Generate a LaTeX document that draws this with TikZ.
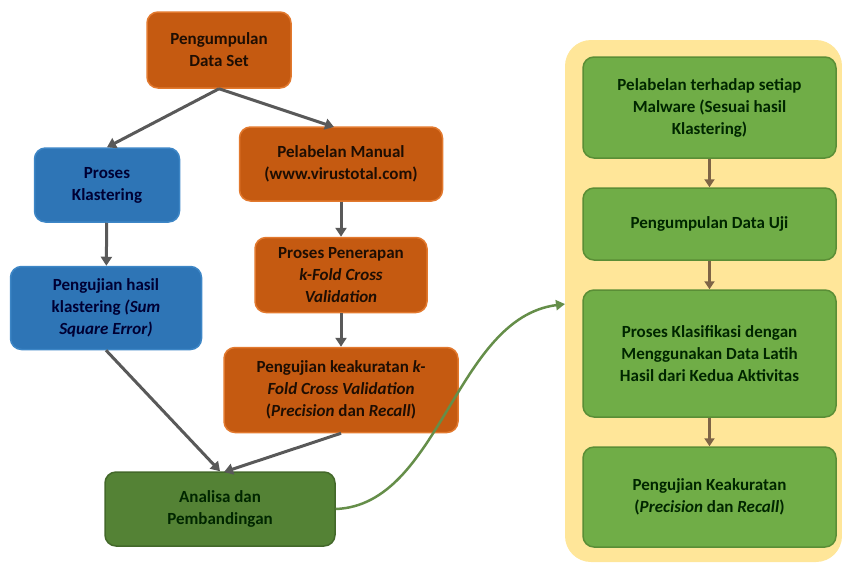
\documentclass[tikz,border=0pt]{standalone}
\usepackage{fontspec}
\setmainfont{Carlito}
\usepackage{xcolor}
\usetikzlibrary{arrows.meta}

\definecolor{orangefill}{HTML}{C55A11}
\definecolor{orangeline}{HTML}{E2792E}
\definecolor{bluefill}{HTML}{2E75B6}
\definecolor{blueline}{HTML}{3D86C6}
\definecolor{greenfill}{HTML}{70AD47}
\definecolor{greenline}{HTML}{5A8E36}
\definecolor{darkgreen}{HTML}{548235}
\definecolor{yellowbg}{HTML}{FFE699}
\definecolor{arrowgray}{HTML}{595959}
\definecolor{arrowbrown}{HTML}{7E6446}

\begin{document}
\begin{tikzpicture}[x=1pt,y=-1pt]
        \tikzset{box/.style={rounded corners=11pt,line width=1.5pt,align=center,
                font=\fontsize{17}{22}\selectfont\bfseries,inner sep=2pt},
            orangebox/.style={box,fill=orangefill,draw=orangeline,text=black!85!orangefill},
            bluebox/.style={box,fill=bluefill,draw=blueline,text=black!80!blue},
            greenbox/.style={box,fill=greenfill,draw=greenline,text=black!85!green,
                minimum width=253pt},
            analisabox/.style={box,fill=darkgreen,draw=darkgreen!80!black,text=black!85!green},
            flow/.style={draw=arrowgray,line width=3pt,-{Triangle[length=9pt,width=11pt]}},
            flowright/.style={draw=arrowbrown,line width=3pt,-{Triangle[length=8pt,width=10pt]}},
            link/.style={draw=darkgreen!90!white,line width=2.5pt,-{Triangle[length=9pt,width=10pt]}}}
        \useasboundingbox (0,0) rectangle (842,563);
        % right panel
        \fill[yellowbg,rounded corners=26pt] (565,40) rectangle (842,562);
        % left side
        \node[orangebox,minimum width=144pt,minimum height=76pt] (dataset) at (219,50)
            {Pengumpulan\\Data Set};
        \node[bluebox,minimum width=145pt,minimum height=74pt] (klaster) at (107,185)
            {Proses\\Klastering};
        \node[orangebox,minimum width=203pt,minimum height=74pt] (manual) at (341,164)
            {Pelabelan Manual\\(www.virustotal.com)};
        \node[bluebox,minimum width=191pt,minimum height=83pt] (sse) at (106,308)
            {Pengujian hasil\\klastering \textit{(Sum}\\\textit{Square Error)}};
        \node[orangebox,minimum width=172pt,minimum height=75pt] (kfold) at (341,275)
            {Proses Penerapan\\\textit{k-Fold Cross}\\\textit{Validation}};
        \node[orangebox,minimum width=234pt,minimum height=85pt] (akurasi) at (341,390)
            {Pengujian keakuratan \textit{k-}\\\textit{Fold Cross Validation}\\(\textit{Precision} dan \textit{Recall})};
        \node[analisabox,minimum width=230pt,minimum height=74pt] (analisa) at (220,509)
            {Analisa dan\\Pembandingan};
        % right side
        \node[greenbox,minimum height=101pt] (label) at (709.5,107.5)
            {Pelabelan terhadap setiap\\Malware (Sesuai hasil\\Klastering)};
        \node[greenbox,minimum height=72pt] (datauji) at (709.5,224)
            {Pengumpulan Data Uji};
        \node[greenbox,minimum height=127pt] (klasifikasi) at (709.5,353.5)
            {Proses Klasifikasi dengan\\Menggunakan Data Latih\\Hasil dari Kedua Aktivitas};
        \node[greenbox,minimum height=100pt] (keakuratan) at (709.5,497)
            {Pengujian Keakuratan\\(\textit{Precision} dan \textit{Recall})};
        \coordinate (masuk) at (565,304);
        % arrows
        \draw[flow] (dataset.south) -- (klaster.north);
        \draw[flow] (dataset.south) -- (334,127);
        \draw[flow] (klaster) -- (sse);
        \draw[flow] (manual) -- (kfold);
        \draw[flow] (kfold) -- (akurasi);
        \draw[flow] (sse.south) -- (analisa.north);
        \draw[flow] (akurasi.south) -- (224,472);
        \draw[flowright] (label) -- (datauji);
        \draw[flowright] (datauji) -- (klasifikasi);
        \draw[flowright] (klasifikasi) -- (keakuratan);
        \draw[link] (analisa.east) .. controls (440,505) and (455,318) .. (masuk);
    \end{tikzpicture}
\end{document}
